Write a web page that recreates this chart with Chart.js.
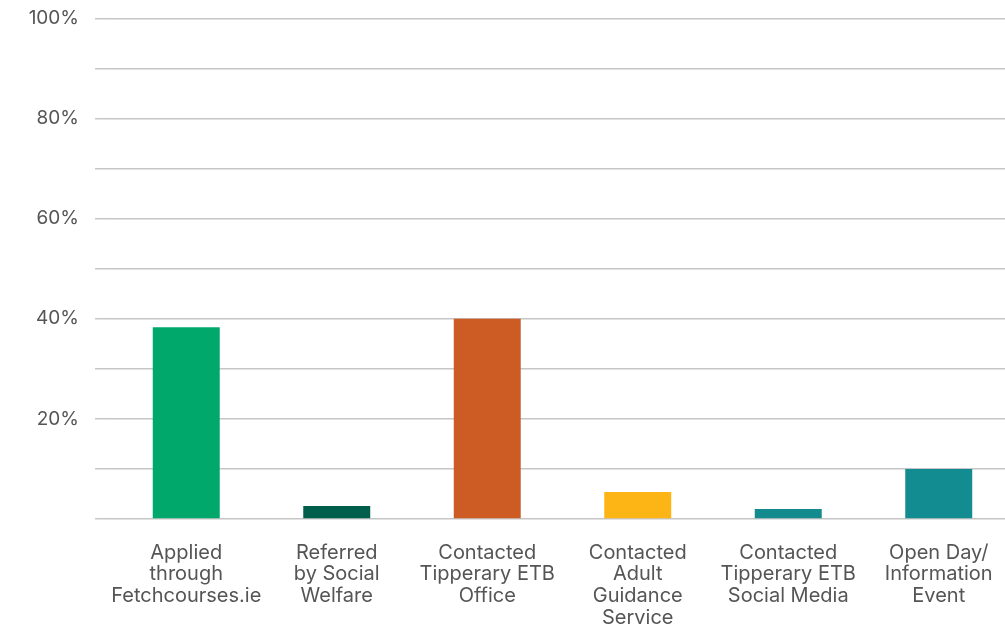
<!DOCTYPE html>
<html lang="en">
<head>
    <meta charset="UTF-8">
    <title>How learners found their course</title>
    <script src="https://cdn.jsdelivr.net/npm/chart.js"></script>
    <style>
        html, body { margin: 0; padding: 0; overflow: hidden; background: #fff; }
        #wrap { width: 1021px; height: 637px; position: relative; top: -9px; }
    </style>
</head>
<body>
    <div id="wrap"><canvas id="routeChart"></canvas></div>

    <script>
        // Categories (multi-line labels) and values in percent
        const categories = [
            ['Applied', 'through', 'Fetchcourses.ie'],
            ['Referred', 'by Social', 'Welfare'],
            ['Contacted', 'Tipperary ETB', 'Office'],
            ['Contacted', 'Adult', 'Guidance', 'Service'],
            ['Contacted', 'Tipperary ETB', 'Social Media'],
            ['Open Day/', 'Information', 'Event']
        ];
        const values = [38.3, 2.6, 40, 5.4, 2, 10];
        const barColors = ['#00A86B', '#005E4C', '#CC5C24', '#FDB515', '#128A8E', '#128C90'];
        const yTickLabels = [20, 40, 60, 80, 100];

        const ctx = document.getElementById('routeChart').getContext('2d');
        Chart.defaults.font.family = 'Inter, "Liberation Sans", sans-serif';
        Chart.defaults.color = '#555555';

        new Chart(ctx, {
            type: 'bar',
            data: {
                labels: categories,
                datasets: [{
                    data: values,
                    backgroundColor: barColors,
                    borderWidth: 0,
                    categoryPercentage: 1,
                    barPercentage: 0.445
                }]
            },
            options: {
                responsive: true,
                maintainAspectRatio: false,
                animation: false,
                layout: { padding: { left: 0, top: 0, right: 7, bottom: 0 } },
                plugins: {
                    legend: { display: false },
                    tooltip: { enabled: false }
                },
                scales: {
                    x: {
                        grid: { display: false, drawTicks: false },
                        border: { display: false },
                        afterFit: function (axis) { axis.height = 109; },
                        ticks: {
                            padding: 23,
                            maxRotation: 0,
                            autoSkip: false,
                            font: { size: 20, lineHeight: 1.08 },
                            color: '#555555'
                        }
                    },
                    y: {
                        min: 0,
                        max: 100,
                        border: { display: false },
                        afterFit: function (axis) { axis.width = 111; },
                        grid: {
                            color: '#c6c6c6',
                            lineWidth: 1.5,
                            tickLength: 16
                        },
                        ticks: {
                            stepSize: 10,
                            padding: 16,
                            font: { size: 19 },
                            color: '#555555',
                            callback: function (v) {
                                return yTickLabels.includes(v) ? v + '%' : '';
                            }
                        }
                    }
                }
            }
        });
    </script>
</body>
</html>
